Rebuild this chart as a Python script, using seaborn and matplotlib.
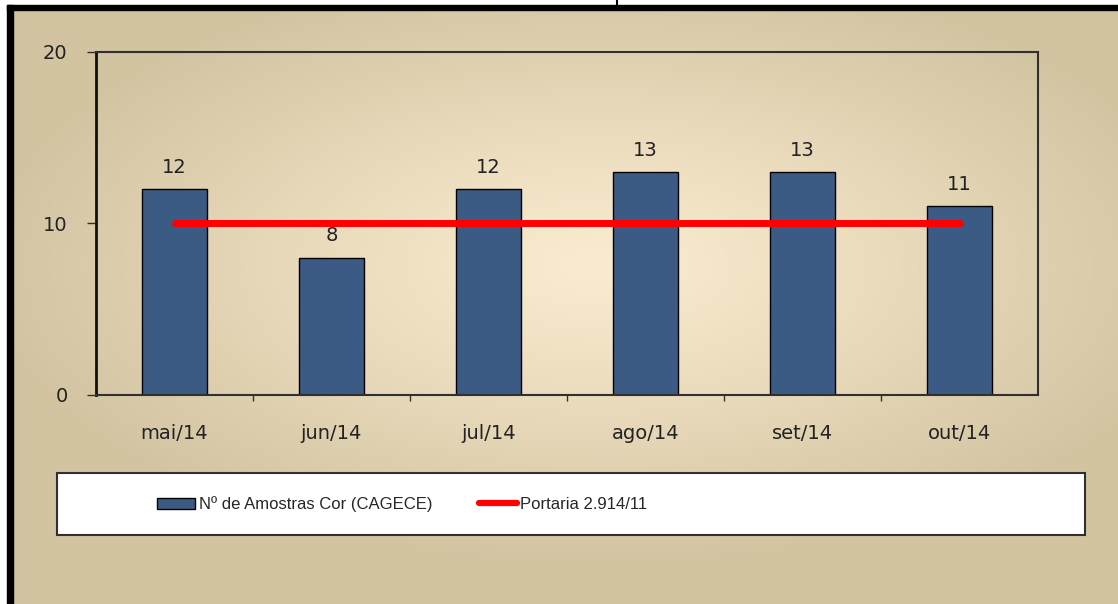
import numpy as np
import matplotlib
matplotlib.use("Agg")
import matplotlib.pyplot as plt
import seaborn as sns
from matplotlib.patches import Rectangle, Patch
from matplotlib.lines import Line2D

months = ['mai/14', 'jun/14', 'jul/14', 'ago/14', 'set/14', 'out/14']
amostras = [12, 8, 12, 13, 13, 11]
portaria = [10, 10, 10, 10, 10, 10]
y_ticks = [0, 10, 20]

bar_label = 'Nº de Amostras Cor (CAGECE)'
line_label = 'Portaria 2.914/11'

W, H = 1118, 604

sns.set_style('white')
plt.rcParams['font.family'] = ['DejaVu Sans']

fig = plt.figure(figsize=(W / 100, H / 100), dpi=100)

# radial beige background
bg = fig.add_axes([0, 0, 1, 1])
yy, xx = np.mgrid[0:H, 0:W]
d = np.sqrt(((xx - 600) / 620.0) ** 2 + ((yy - 265) / 300.0) ** 2)
d = np.clip(d, 0, 1) ** 1.1
c_in = np.array([250, 236, 207]) / 255
c_out = np.array([210, 196, 161]) / 255
img = c_in[None, None, :] * (1 - d[..., None]) + c_out[None, None, :] * d[..., None]
bg.imshow(img, extent=[0, W, H, 0], aspect='auto', interpolation='bilinear')
bg.set_xlim(0, W)
bg.set_ylim(H, 0)
bg.axis('off')

# outer white margin + black frame (top and left)
bg.add_patch(Rectangle((0, 0), W, 5, color='white', zorder=2))
bg.add_patch(Rectangle((0, 0), 7, H, color='white', zorder=2))
bg.add_patch(Rectangle((7, 5), W - 7, 5, color='black', zorder=3))
bg.add_patch(Rectangle((7, 5), 6, H - 5, color='black', zorder=3))
bg.plot([617, 617], [0, 5], color='black', lw=1.5, zorder=3)

# legend box
bg.add_patch(Rectangle((57, 473), 1085 - 57, 535 - 473, facecolor='white',
                       edgecolor='#303030', lw=1.5, zorder=2))

# main plot
left, right, top, bottom = 96, 1038, 52, 395
ax = fig.add_axes([left / W, 1 - bottom / H, (right - left) / W, (bottom - top) / H])
ax.set_facecolor('none')

sns.barplot(x=months, y=amostras, color='#3c5b84', saturation=1,
            edgecolor='black', linewidth=1, width=0.41, ax=ax, zorder=2)
ax.plot(np.arange(len(months)), portaria, color='#ff0000', lw=5,
        solid_capstyle='round', zorder=3)

ax.bar_label(ax.containers[0], labels=[str(v) for v in amostras],
             padding=9, fontsize=14, color='#222222')

ax.set_xlim(-0.5, len(months) - 0.5)
ax.set_ylim(0, 20)
ax.set_yticks(y_ticks)
ax.set_xlabel('')
ax.set_ylabel('')

ax.set_xticks(np.arange(len(months)))
ax.set_xticklabels(months)
ax.set_xticks(np.arange(len(months) - 1) + 0.5, minor=True)
ax.tick_params(axis='x', which='major', length=0, pad=21, labelsize=14, labelcolor='#222222')
ax.tick_params(axis='x', which='minor', length=4.5, width=1, color='#303030',
               direction='out', bottom=True)
ax.tick_params(axis='y', which='major', length=6.5, width=1, color='#303030',
               direction='out', left=True, pad=14, labelsize=14, labelcolor='#222222')

for s in ax.spines.values():
    s.set_visible(True)
    s.set_color('#303030')
    s.set_linewidth(1.5)
ax.spines['left'].set_color('#101010')
ax.spines['left'].set_linewidth(2)

handles = [
    Patch(facecolor='#3c5b84', edgecolor='black', linewidth=1),
    Line2D([0], [0], color='#ff0000', lw=4.5, solid_capstyle='round'),
]
fig.legend(handles, [bar_label, line_label], loc='center left',
           bbox_to_anchor=(157 / W, 1 - 504 / H), ncol=2, frameon=False,
           borderpad=0, borderaxespad=0, handlelength=2.3, handleheight=0.65,
           handletextpad=0.2, columnspacing=2.8,
           prop={'family': ['Liberation Sans', 'DejaVu Sans'], 'size': 12})

fig.savefig('out.png', dpi=100)
